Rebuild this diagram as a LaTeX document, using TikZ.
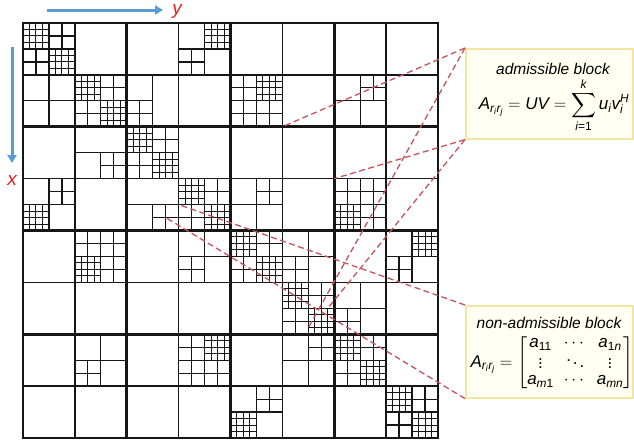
\documentclass[tikz,border=0pt]{standalone}
\usepackage{amsmath}
\usepackage{fontspec}
\setmainfont{Liberation Sans}
\usetikzlibrary{arrows.meta}
\definecolor{gridc}{HTML}{161616}
\definecolor{axisblue}{HTML}{5B9BD5}
\definecolor{dashred}{HTML}{C4545A}
\definecolor{boxfill}{HTML}{FFFFF3}
\definecolor{boxline}{HTML}{F0E6A0}
\definecolor{labred}{HTML}{E8201A}
\newcommand{\sit}[1]{\textit{#1}}
\newcommand{\Qfine}[2]{\foreach \k in {0.125,0.25,0.375}{\draw[fineln] (#1+\k,#2) -- ++(0,0.5); \draw[fineln] (#1,#2+\k) -- ++(0.5,0);}}
\newcommand{\Qcross}[2]{\draw[subln] (#1+0.25,#2) -- ++(0,0.5) (#1,#2+0.25) -- ++(0.5,0);}
\newcommand{\Ccross}[2]{\draw[midln] (#1+0.5,#2) -- ++(0,1) (#1,#2+0.5) -- ++(1,0);}
\newcommand{\Diag}[1]{\Ccross{#1}{#1}\Qfine{#1}{#1}\Qfine{#1+0.5}{#1+0.5}\Qcross{#1+0.5}{#1}\Qcross{#1}{#1+0.5}}
\begin{document}
\begin{tikzpicture}[x=1pt,y=-1pt,
  fineln/.style={line width=1pt,draw=gridc},
  subln/.style={line width=1.2pt,draw=gridc},
  midln/.style={line width=1.3pt,draw=gridc},
  cellln/.style={line width=1.7pt,draw=gridc},
  thickln/.style={line width=2.8pt,draw=gridc},
  dashln/.style={dashed,dash pattern=on 6pt off 3.5pt,line width=1.3pt,draw=dashred},
  boxsty/.style={draw=boxline,fill=boxfill,line width=1.6pt,inner sep=0pt,anchor=north west},
  axarrow/.style={draw=axisblue,line width=3pt,-{Triangle[length=8pt,width=9pt]}},
  axlab/.style={text=labred,font=\fontsize{19}{22}\selectfont\itshape,inner sep=0pt},
  boxtitle/.style={font=\fontsize{15.5}{18}\selectfont\itshape,inner sep=0pt},
  boxmath/.style={font=\fontsize{17}{20}\selectfont,inner sep=0pt}]
\useasboundingbox (0,0) rectangle (634,442);
\fill[white] (0,0) rectangle (634,442);
% axes
\coordinate (ys) at (47,10);
\coordinate (ye) at (163,10);
\coordinate (xs) at (12,47);
\coordinate (xe) at (12,163);
\draw[axarrow] (ys) -- (ye);
\draw[axarrow] (xs) -- (xe);
\node[axlab] (ylab) at (177,11) {y};
\node[axlab] (xlab) at (12,180) {x};
% grid
\begin{scope}[shift={(23,23)},x=51.875pt,y=-51.875pt]
  \foreach \d in {0,...,7}{\Diag{\d}}
  % row 0
  \Ccross{3}{0}\Qfine{3.5}{0}\Qcross{3}{0.5}
  % row 1
  \Ccross{0}{1}
  \draw[midln] (2.5,1) -- (2.5,2) (2,1.5) -- (2.5,1.5); \Qcross{2}{1.5}
  \Ccross{4}{1}\Qfine{4.5}{1}\Qcross{4}{1}\Qcross{4}{1.5}\Qcross{4.5}{1.5}
  \Ccross{6}{1}\Qcross{6.5}{1}
  % row 2
  \draw[midln] (1,2.5) -- (2,2.5) (1.5,2.5) -- (1.5,3); \Qcross{1.5}{2.5}
  % row 3
  \Ccross{0}{3}\Qfine{0}{3.5}\Qcross{0.5}{3}
  \draw[midln] (2,3.5) -- (3,3.5) (2.5,3.5) -- (2.5,4); \Qcross{2.5}{3.5}
  \Ccross{4}{3}\Qcross{4.5}{3}
  \Ccross{6}{3}\Qfine{6}{3.5}\Qcross{6}{3}\Qcross{6.5}{3}\Qcross{6.5}{3.5}
  % row 4
  \Ccross{1}{4}\Qfine{1}{4.5}\Qcross{1}{4}\Qcross{1.5}{4}\Qcross{1.5}{4.5}
  \Ccross{3}{4}\Qcross{3}{4.5}
  \Ccross{5}{4}\Qcross{5}{4.5}
  \Ccross{7}{4}\Qfine{7.5}{4}\Qcross{7}{4.5}
  % row 5
  \Ccross{6}{5}\Qcross{6}{5.5}
  % row 6
  \Ccross{1}{6}\Qcross{1}{6.5}
  \Ccross{3}{6}\Qfine{3.5}{6}\Qcross{3}{6}\Qcross{3}{6.5}\Qcross{3.5}{6.5}
  \Ccross{5}{6}\Qcross{5.5}{6}
  % row 7
  \Ccross{4}{7}\Qfine{4}{7.5}\Qcross{4.5}{7}
  % 8x8 lines
  \foreach \i in {1,3,5,7}{\draw[cellln] (\i,0) -- (\i,8); \draw[cellln] (0,\i) -- (8,\i);}
  \foreach \i in {2,4,6}{\draw[thickln] (\i,0) -- (\i,8); \draw[thickln] (0,\i) -- (8,\i);}
  \draw[thickln] (0,0) rectangle (8,8);
  % block corners for callouts
  \coordinate (admA) at (5,2);
  \coordinate (admB) at (6,3);
  \coordinate (admC) at (5.5,5.875);
  \coordinate (admD) at (5.875,5.5);
  \coordinate (nadA) at (3,3.5);
  \coordinate (nadB) at (2.75,3.75);
\end{scope}
% boxes
\node[boxsty,minimum width=167pt,minimum height=90pt] (adm) at (465,48) {};
\node[boxsty,minimum width=167pt,minimum height=92pt] (nad) at (465,305) {};
\node[boxtitle] (admT) at (553,69) {admissible block};
\node[boxmath] (admF) at (554,105) {$\sit{A}_{\sit{r}_{\sit{i}}\sit{r}_{\sit{j}}} = \sit{UV} = \displaystyle\sum_{\text{\itshape i}\text{=1}}^{\sit{k}} \sit{u}_{\sit{i}}\sit{v}_{\sit{i}}^{\sit{H}}$};
\node[boxtitle] (nadT) at (549,323) {non-admissible block};
\node[boxmath] (nadF) at (552,363) {\renewcommand{\arraystretch}{0.8}$\sit{A}_{\sit{r}_{\sit{i}}\sit{r}_{\sit{j}}} = \begin{bmatrix} \sit{a}_{\text{11}} & \cdots & \sit{a}_{\text{1}\sit{n}} \\ \vdots & \ddots & \vdots \\ \sit{a}_{\sit{m}\text{1}} & \cdots & \sit{a}_{\sit{mn}} \end{bmatrix}$};
% callout lines
\draw[dashln] (adm.north west) -- (admA);
\draw[dashln] (adm.south west) -- (admB);
\draw[dashln] (adm.north west) -- (admC);
\draw[dashln] (adm.south west) -- (admD);
\draw[dashln] (nad.north west) -- (nadA);
\draw[dashln] (nad.south west) -- (nadB);
\end{tikzpicture}
\end{document}
